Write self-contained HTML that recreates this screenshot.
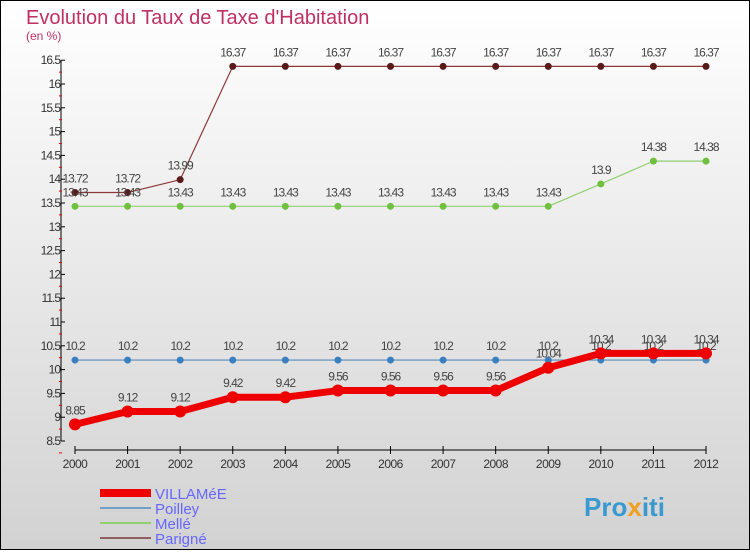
<!DOCTYPE html>
<html><head><meta charset="utf-8"><style>
body{margin:0;width:750px;height:550px;overflow:hidden;font-family:"Liberation Sans",sans-serif}
</style></head><body>
<svg width="750" height="550">
<defs><linearGradient id="bg" x1="0" y1="0" x2="0" y2="1"><stop offset="0" stop-color="#ffffff"/><stop offset="1" stop-color="#d2d2d2"/></linearGradient></defs>
<rect x="0.5" y="0.5" width="749" height="549" fill="url(#bg)" stroke="#000"/>
<text x="26" y="24" font-size="20" fill="#c03060">Evolution du Taux de Taxe d'Habitation</text>
<text x="26" y="40" font-size="12" fill="#c03060">(en %)</text>
<g id="axes"></g><g id="series"></g>
<g>
<rect x="100" y="489" width="51" height="8" fill="#e00"/>
<text x="155" y="499" font-size="15" fill="#6666ff">VILLAMéE</text>
<rect x="100" y="507" width="51" height="2" fill="#70a0c8"/>
<text x="155" y="514" font-size="15" fill="#6666ff">Poilley</text>
<rect x="100" y="522" width="51" height="2" fill="#90d070"/>
<text x="155" y="529" font-size="15" fill="#6666ff">Mellé</text>
<rect x="100" y="537" width="51" height="2" fill="#906060"/>
<text x="155" y="544" font-size="15" fill="#6666ff">Parigné</text>
</g>
<text x="584" y="516" font-size="26" font-weight="bold" fill="#3a9ad0">Pro<tspan fill="#f0a020">x</tspan>iti</text>
</svg>
<script>
const years=[2000,2001,2002,2003,2004,2005,2006,2007,2008,2009,2010,2011,2012];
const villamee=[8.85,9.12,9.12,9.42,9.42,9.56,9.56,9.56,9.56,10.04,10.34,10.34,10.34];
const poilley=[10.2,10.2,10.2,10.2,10.2,10.2,10.2,10.2,10.2,10.2,10.2,10.2,10.2];
const melle=[13.43,13.43,13.43,13.43,13.43,13.43,13.43,13.43,13.43,13.43,13.9,14.38,14.38];
const parigne=[13.72,13.72,13.99,16.37,16.37,16.37,16.37,16.37,16.37,16.37,16.37,16.37,16.37];
const yTicks=[8.5,9,9.5,10,10.5,11,11.5,12,12.5,13,13.5,14,14.5,15,15.5,16,16.5];
const NS="http://www.w3.org/2000/svg";
const xs=i=>75+i*(706-75)/(years.length-1);
const ys=v=>441-(v-8.5)*47.6;
function mk(p,t,a){const e=document.createElementNS(NS,t);for(const k in a)e.setAttribute(k,a[k]);p.appendChild(e);return e;}
const ax=document.getElementById('axes');
let l=mk(ax,'line',{x1:61,y1:ys(16.5),x2:61,y2:ys(8.5),stroke:'#000'});


yTicks.forEach(v=>{
 mk(ax,'line',{x1:61,y1:ys(v),x2:65,y2:ys(v),stroke:'#000'});
 mk(ax,'line',{x1:59,y1:ys(v)+11.9,x2:62,y2:ys(v)+11.9,stroke:'#e00'});
 const t=mk(ax,'text',{x:60,y:ys(v)+4,'font-size':12,'text-anchor':'end',fill:'#333','letter-spacing':'-1'});
 t.textContent=v;
 
 
});
l=mk(ax,'line',{x1:xs(0),y1:450,x2:xs(years.length-1),y2:450,stroke:'#000'});


years.forEach((y,i)=>{
 mk(ax,'line',{x1:xs(i),y1:446,x2:xs(i),y2:454,stroke:'#000'});
 const t=mk(ax,'text',{x:xs(i),y:468,'font-size':12,'text-anchor':'middle',fill:'#333','letter-spacing':'-0.5'});
 t.textContent=y;
 
 
});
const sg=document.getElementById('series');
function draw(name,data,col,dot,w,r){
 const g=mk(sg,'g',{});
 
 
 const pl=mk(g,'polyline',{points:data.map((v,i)=>xs(i)+','+ys(v)).join(' '),fill:'none',stroke:col,'stroke-width':w,'stroke-linejoin':'round'});
 
 
 data.forEach((v,i)=>{
  const c=mk(g,'circle',{cx:xs(i),cy:ys(v),r:r,fill:dot});
  
  
  const t=mk(g,'text',{x:xs(i),y:ys(v)-10,'font-size':12,'text-anchor':'middle',fill:'#444','letter-spacing':'-1'});
  t.textContent=v;
  
  
 });
}
draw('parigne',parigne,'#8b3a3a','#5a1a1a',1.2,3.5);
draw('melle',melle,'#90d070','#70c040',1.2,3.5);
draw('poilley',poilley,'#5a8ab8','#3a80c0',1.2,3.5);
draw('villamee',villamee,'#e00','#e00',7,6);
</script>
</body></html>
